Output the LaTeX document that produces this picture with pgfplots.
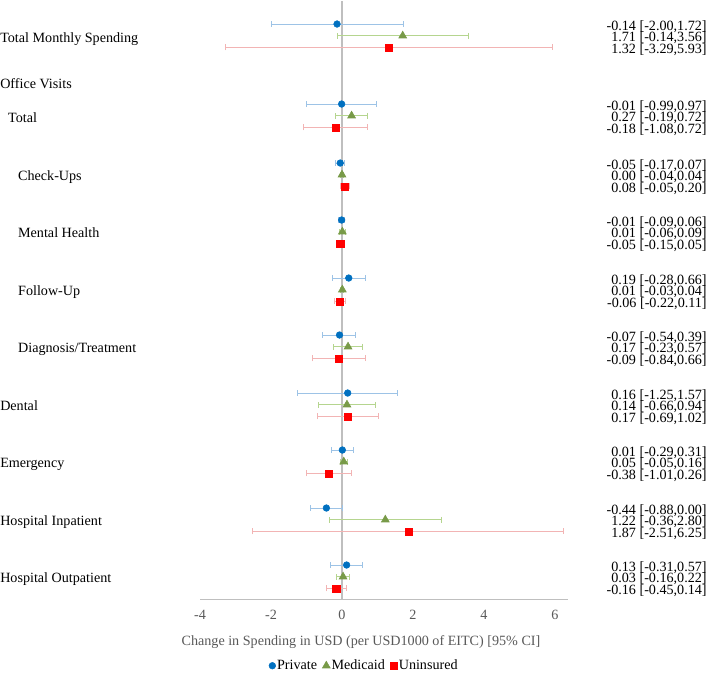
\documentclass[border=0pt]{standalone}
\usepackage{fontspec}
\setmainfont{Liberation Serif}
\usepackage{pgfplots}
\usepackage{pgfplotstable}
\pgfplotsset{compat=1.18}
\definecolor{privM}{HTML}{0070C0}
\definecolor{privE}{HTML}{9DC3E6}
\definecolor{medM}{HTML}{789A48}
\definecolor{medE}{HTML}{B5D58F}
\definecolor{uniM}{HTML}{FF0000}
\definecolor{uniE}{HTML}{F2B4B4}
\definecolor{axisgray}{HTML}{BFBFBF}
\definecolor{tickgray}{HTML}{595959}

% y = vertical position (row layout), x = estimate, lo/hi = 95% CI
\pgfplotstableread{
y x lo hi
-23.3 -0.14 -2.00 1.72
-103.3 -0.01 -0.99 0.97
-162.3 -0.05 -0.17 0.07
-219.3 -0.01 -0.09 0.06
-277.3 0.19 -0.28 0.66
-334.3 -0.07 -0.54 0.39
-392.3 0.16 -1.25 1.57
-449.3 0.01 -0.29 0.31
-507.3 -0.44 -0.88 0.00
-564.3 0.13 -0.31 0.57
}\privatedata

\pgfplotstableread{
y x lo hi
-35 1.71 -0.14 3.56
-115 0.27 -0.19 0.72
-174 0.00 -0.04 0.04
-231 0.01 -0.06 0.09
-289 0.01 -0.03 0.04
-346 0.17 -0.23 0.57
-404 0.14 -0.66 0.94
-461 0.05 -0.05 0.16
-519 1.22 -0.36 2.80
-576 0.03 -0.16 0.22
}\medicaiddata

\pgfplotstableread{
y x lo hi
-46.7 1.32 -3.29 5.93
-126.7 -0.18 -1.08 0.72
-185.7 0.08 -0.05 0.20
-242.7 -0.05 -0.15 0.05
-300.7 -0.06 -0.22 0.11
-357.7 -0.09 -0.84 0.66
-415.7 0.17 -0.69 1.02
-472.7 -0.38 -1.01 0.26
-530.7 1.87 -2.51 6.25
-587.7 -0.16 -0.45 0.14
}\uninsureddata

\pgfplotsset{
  legimg/.style={legend image code/.code={\draw[mark repeat=2,mark phase=2,##1] plot coordinates {(0cm,0cm)(0.12cm,0cm)(0.24cm,0cm)};}},
}

\begin{document}
\fontsize{10.6}{12}\selectfont
\begin{tikzpicture}
\begin{axis}[
  scale only axis, width=276pt, height=449.25pt,
  xmin=-4, xmax=6.366, ymin=-599, ymax=0,
  axis x line*=bottom, axis y line=none,
  x axis line style={draw=axisgray, line width=0.75pt},
  xtick={-4,-2,0,2,4,6}, major tick length=0pt,
  xticklabel style={text=tickgray, yshift=-4pt},
  /pgf/number format/assume math mode=true,
  ytick=\empty,
  clip=false,
  legend style={at={(axis cs:0.62,-665)}, anchor=center, draw=none, fill=none,
    legend columns=3, inner sep=0pt, nodes={inner sep=1pt},
    /tikz/every even column/.append style={column sep=3pt}},
]
\addplot[draw=axisgray, line width=1.1pt, forget plot] coordinates {(0,-599) (0,0)};

\addplot[only marks, mark=*, mark size=2.5pt, color=privM, mark options={draw=privM, fill=privM}, legimg,
  error bars/.cd, x dir=both, x explicit, error mark=|,
  error bar style={line width=0.75pt, color=privE},
  error mark options={line width=0.75pt, mark size=2.2pt, color=privE}]
  table[x=x, y=y, x error plus expr=\thisrow{hi}-\thisrow{x}, x error minus expr=\thisrow{x}-\thisrow{lo}] {\privatedata};
\addlegendentry{Private}
\addplot[only marks, mark=triangle*, mark size=3.4pt, color=medM, mark options={draw=medM, fill=medM}, legimg,
  error bars/.cd, x dir=both, x explicit, error mark=|,
  error bar style={line width=0.75pt, color=medE},
  error mark options={line width=0.75pt, mark size=2.2pt, color=medE}]
  table[x=x, y=y, x error plus expr=\thisrow{hi}-\thisrow{x}, x error minus expr=\thisrow{x}-\thisrow{lo}] {\medicaiddata};
\addlegendentry{Medicaid}
\addplot[only marks, mark=square*, mark size=2.7pt, color=uniM, mark options={draw=uniM, fill=uniM}, legimg,
  error bars/.cd, x dir=both, x explicit, error mark=|,
  error bar style={line width=0.75pt, color=uniE},
  error mark options={line width=0.75pt, mark size=2.2pt, color=uniE}]
  table[x=x, y=y, x error plus expr=\thisrow{hi}-\thisrow{x}, x error minus expr=\thisrow{x}-\thisrow{lo}] {\uninsureddata};
\addlegendentry{Uninsured}

% left row labels
\begin{scope}[every node/.style={anchor=mid west, inner sep=0pt}]
\node at (axis cs:-9.634,-39) {Total Monthly Spending};
\node at (axis cs:-9.634,-85) {Office Visits};
\node at (axis cs:-9.41,-119) {Total};
\node at (axis cs:-9.13,-177) {Check-Ups};
\node at (axis cs:-9.13,-234) {Mental Health};
\node at (axis cs:-9.13,-292) {Follow-Up};
\node at (axis cs:-9.13,-349) {Diagnosis/Treatment};
\node at (axis cs:-9.634,-407) {Dental};
\node at (axis cs:-9.634,-464) {Emergency};
\node at (axis cs:-9.634,-522) {Hospital Inpatient};
\node at (axis cs:-9.634,-579) {Hospital Outpatient};
\end{scope}

% right estimate labels
\begin{scope}[every node/.style={anchor=mid east, inner sep=0pt}]
\node at (axis cs:10.28,-26.3) {-0.14 [-2.00,1.72]};
\node at (axis cs:10.28,-38) {1.71 [-0.14,3.56]};
\node at (axis cs:10.28,-49.7) {1.32 [-3.29,5.93]};
\node at (axis cs:10.28,-106.3) {-0.01 [-0.99,0.97]};
\node at (axis cs:10.28,-118) {0.27 [-0.19,0.72]};
\node at (axis cs:10.28,-129.7) {-0.18 [-1.08,0.72]};
\node at (axis cs:10.28,-165.3) {-0.05 [-0.17,0.07]};
\node at (axis cs:10.28,-177) {0.00 [-0.04,0.04]};
\node at (axis cs:10.28,-188.7) {0.08 [-0.05,0.20]};
\node at (axis cs:10.28,-222.3) {-0.01 [-0.09,0.06]};
\node at (axis cs:10.28,-234) {0.01 [-0.06,0.09]};
\node at (axis cs:10.28,-245.7) {-0.05 [-0.15,0.05]};
\node at (axis cs:10.28,-280.3) {0.19 [-0.28,0.66]};
\node at (axis cs:10.28,-292) {0.01 [-0.03,0.04]};
\node at (axis cs:10.28,-303.7) {-0.06 [-0.22,0.11]};
\node at (axis cs:10.28,-337.3) {-0.07 [-0.54,0.39]};
\node at (axis cs:10.28,-349) {0.17 [-0.23,0.57]};
\node at (axis cs:10.28,-360.7) {-0.09 [-0.84,0.66]};
\node at (axis cs:10.28,-395.3) {0.16 [-1.25,1.57]};
\node at (axis cs:10.28,-407) {0.14 [-0.66,0.94]};
\node at (axis cs:10.28,-418.7) {0.17 [-0.69,1.02]};
\node at (axis cs:10.28,-452.3) {0.01 [-0.29,0.31]};
\node at (axis cs:10.28,-464) {0.05 [-0.05,0.16]};
\node at (axis cs:10.28,-475.7) {-0.38 [-1.01,0.26]};
\node at (axis cs:10.28,-510.3) {-0.44 [-0.88,0.00]};
\node at (axis cs:10.28,-522) {1.22 [-0.36,2.80]};
\node at (axis cs:10.28,-533.7) {1.87 [-2.51,6.25]};
\node at (axis cs:10.28,-567.3) {0.13 [-0.31,0.57]};
\node at (axis cs:10.28,-579) {0.03 [-0.16,0.22]};
\node at (axis cs:10.28,-590.7) {-0.16 [-0.45,0.14]};
\end{scope}

\node[text=tickgray, anchor=center] at (axis cs:0.535,-641) {Change in Spending in USD (per USD1000 of EITC) [95\% CI]};

\path (axis cs:-9.634,0) rectangle (axis cs:10.338,-674);
\end{axis}
\end{tikzpicture}
\end{document}
